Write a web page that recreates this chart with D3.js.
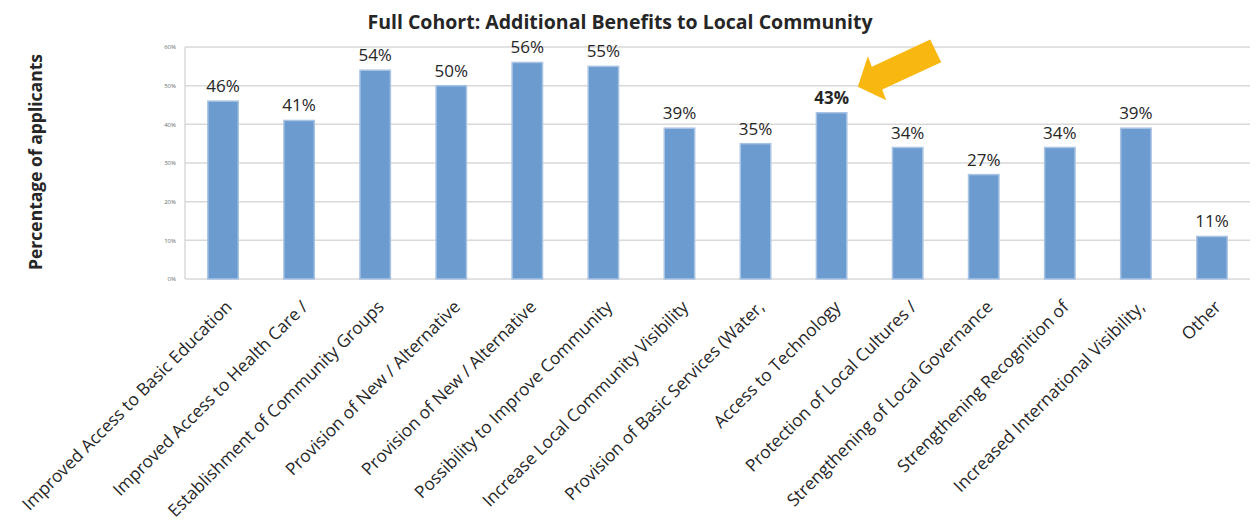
<!DOCTYPE html>
<html>
<head>
<meta charset="utf-8">
<script src="https://cdn.jsdelivr.net/npm/d3@7"></script>
<style>
  html, body { margin: 0; padding: 0; background: #fff; }
  svg { display: block; }
</style>
</head>
<body>
<svg id="chart" width="1256" height="526"></svg>
<script>
// Benefit categories and share of applicants (%) naming each one
const categories = [
  "Improved Access to Basic Education",
  "Improved Access to Health Care /",
  "Establishment of Community Groups",
  "Provision of New / Alternative",
  "Provision of New / Alternative ",
  "Possibility to Improve Community",
  "Increase Local Community Visibility",
  "Provision of Basic Services (Water,",
  "Access to Technology",
  "Protection of Local Cultures /",
  "Strengthening of Local Governance",
  "Strengthening Recognition of",
  "Increased International Visibility,",
  "Other"
];
const values = [46, 41, 54, 50, 56, 55, 39, 35, 43, 34, 27, 34, 39, 11];
const yTicks = [0, 10, 20, 30, 40, 50, 60];
const highlighted = "Access to Technology";

const titleText = "Full Cohort: Additional Benefits to Local Community";
const yTitleText = "Percentage of applicants";

const svg = d3.select("#chart");
const font = "'Open Sans', 'DejaVu Sans', sans-serif";

const plot = { left: 185, right: 1250, top: 47, bottom: 279 };

const x = d3.scaleBand()
  .domain(categories)
  .range([plot.left, plot.right])
  .paddingInner(0.6)
  .paddingOuter(0.3);

const y = d3.scaleLinear()
  .domain([0, 60])
  .range([plot.bottom, plot.top]);

// Horizontal gridlines
svg.append("g")
  .selectAll("line")
  .data(yTicks)
  .join("line")
  .attr("x1", plot.left)
  .attr("x2", plot.right)
  .attr("y1", d => y(d))
  .attr("y2", d => y(d))
  .attr("stroke", "#d9d9d9")
  .attr("stroke-width", 1.5);

// Vertical axis line
svg.append("line")
  .attr("x1", plot.left).attr("x2", plot.left)
  .attr("y1", y(0)).attr("y2", y(60))
  .attr("stroke", "#d9d9d9")
  .attr("stroke-width", 1.5);

// Tiny percentage tick labels
const yAxis = svg.append("g")
  .attr("transform", `translate(${plot.left - 6},0)`)
  .call(d3.axisLeft(y).tickValues(yTicks).tickFormat(d => d + "%").tickSize(0));
yAxis.select(".domain").remove();
yAxis.selectAll("text")
  .attr("font-family", font)
  .attr("font-size", 6)
  .attr("fill", "#6a6a6a");

// Bars
svg.append("g")
  .selectAll("rect")
  .data(categories)
  .join("rect")
  .attr("x", d => x(d))
  .attr("y", (d, i) => y(values[i]))
  .attr("width", x.bandwidth())
  .attr("height", (d, i) => y(0) - y(values[i]))
  .attr("fill", "#6b9bcf")
  .attr("stroke", "#a8c3e3")
  .attr("stroke-width", 1.5);

// Value labels above bars
svg.append("g")
  .selectAll("text")
  .data(categories)
  .join("text")
  .attr("x", d => x(d) + x.bandwidth() / 2)
  .attr("y", (d, i) => y(values[i]) - 9)
  .attr("text-anchor", "middle")
  .attr("font-family", font)
  .attr("font-size", 17)
  .attr("font-weight", d => d === highlighted ? "bold" : "normal")
  .attr("fill", "#262626")
  .text((d, i) => values[i] + "%");

// Rotated category labels
svg.append("g")
  .selectAll("text")
  .data(categories)
  .join("text")
  .attr("transform", d => `translate(${x(d) + x.bandwidth() / 2 + 10},308) rotate(-45)`)
  .attr("text-anchor", "end")
  .attr("font-family", font)
  .attr("font-size", 17.3)
  .attr("fill", "#262626")
  .text(d => d.trim());

// Chart title
svg.append("text")
  .attr("x", 620)
  .attr("y", 29)
  .attr("text-anchor", "middle")
  .attr("font-family", font)
  .attr("font-size", 19.5)
  .attr("font-weight", "bold")
  .attr("fill", "#262626")
  .text(titleText);

// Y-axis title
svg.append("text")
  .attr("transform", "translate(42,162) rotate(-90)")
  .attr("text-anchor", "middle")
  .attr("font-family", font)
  .attr("font-size", 17.5)
  .attr("font-weight", "bold")
  .attr("fill", "#262626")
  .text(yTitleText);

// Callout arrow pointing at the highlighted bar
const hiIndex = categories.indexOf(highlighted);
const tipX = x(highlighted) + x.bandwidth() + 11;
const tipY = y(values[hiIndex]) - 26;
const arrowShape = [
  [0, 0], [10, -30.6], [14, -20], [72.4, -47.3],
  [83.4, -24.6], [24.4, 2.8], [28.4, 13.4]
];
svg.append("polygon")
  .attr("points", arrowShape.map(p => [tipX + p[0], tipY + p[1]].join(",")).join(" "))
  .attr("fill", "#f8b810");
</script>
</body>
</html>
